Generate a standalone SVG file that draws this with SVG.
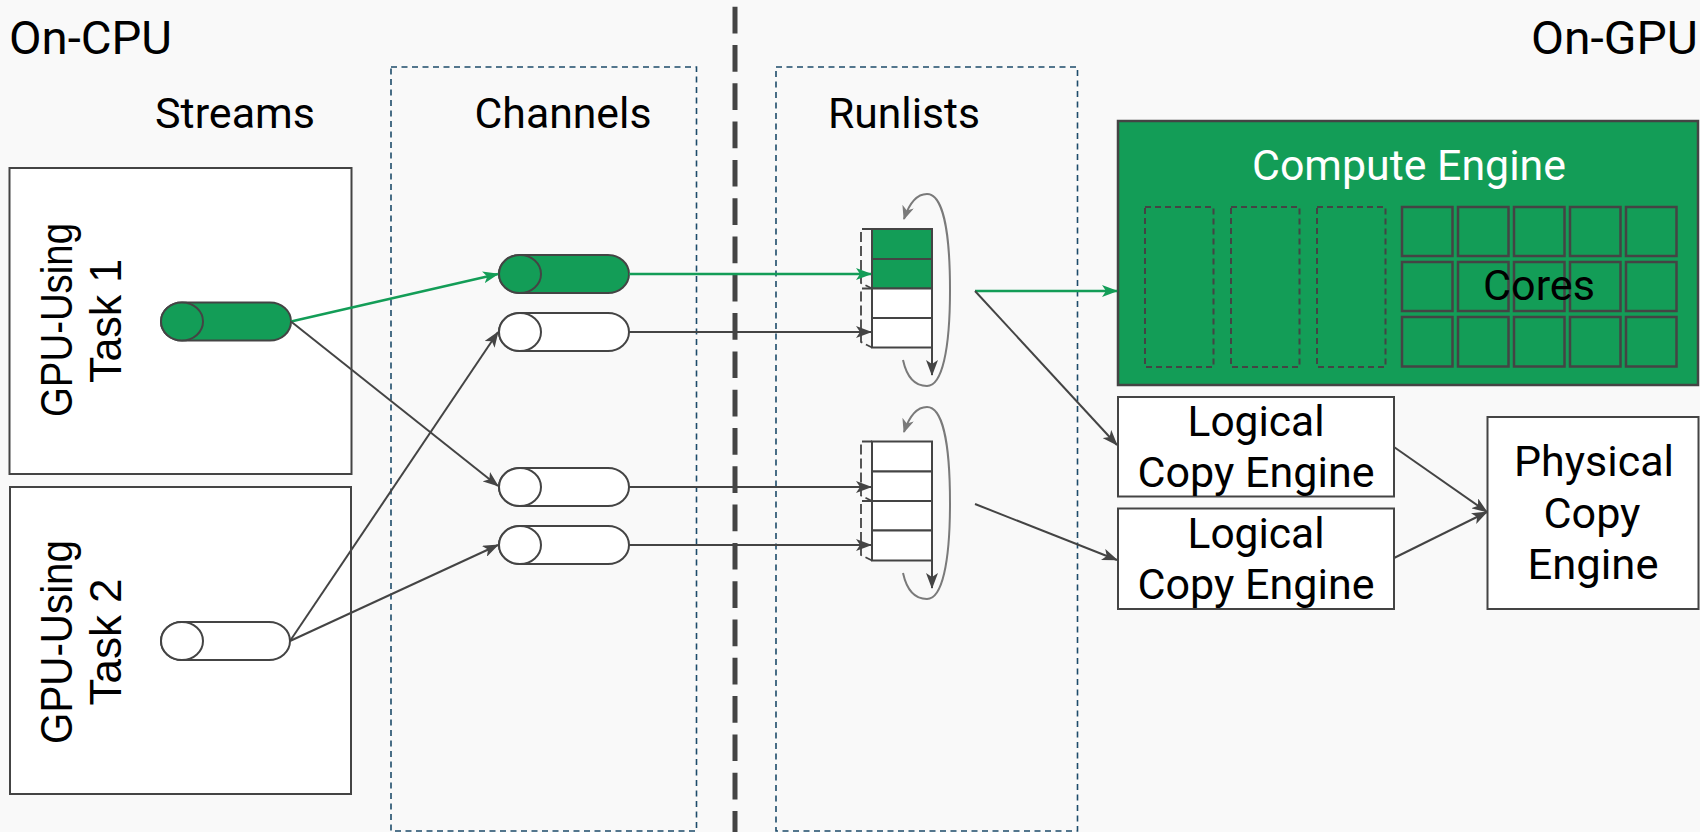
<svg xmlns="http://www.w3.org/2000/svg" width="1700" height="832" viewBox="0 0 1700 832">
  <defs>
    <style>
      .lbl { font-family: Roboto, "Liberation Sans", sans-serif; fill: #000; }
      .vlbl { font-family: "Liberation Sans", Arial, sans-serif; fill: #000; font-size: 44px; text-anchor: middle; }
      .box { fill: #fff; stroke: #444; stroke-width: 2; }
      .zone { fill: none; stroke: #1d4b6a; stroke-width: 1.6; stroke-dasharray: 6 4.5; }
      .cyl-g { fill: #139d57; stroke: #444; stroke-width: 2; }
      .cyl-w { fill: #fff; stroke: #444; stroke-width: 2; }
      .cell-g { fill: #139d57; stroke: #444; stroke-width: 2; }
      .cell-w { fill: #fff; stroke: #444; stroke-width: 2; }
      .bracket { fill: none; stroke: #444; stroke-width: 1.8; stroke-dasharray: 10 4; }
      .loop { fill: none; stroke: #7a7a7a; stroke-width: 2; marker-end: url(#ah-gray); }
      .edge { fill: none; stroke: #444; stroke-width: 2; marker-end: url(#ah-dark); }
      .edge-g { fill: none; stroke: #139d57; stroke-width: 2.5; marker-end: url(#ah-green); }
      .core { fill: none; stroke: #444; stroke-width: 2.5; }
      .slot { fill: none; stroke: #444; stroke-width: 2; stroke-dasharray: 6 4; }
    </style>
    <marker id="ah-dark" viewBox="0 0 16 12" refX="15" refY="6" markerWidth="16" markerHeight="12" orient="auto" markerUnits="userSpaceOnUse">
      <path d="M0,0 L16,6 L0,12 L4,6 z" fill="#444"/>
    </marker>
    <marker id="ah-green" viewBox="0 0 16 12" refX="15" refY="6" markerWidth="16" markerHeight="12" orient="auto" markerUnits="userSpaceOnUse">
      <path d="M0,0 L16,6 L0,12 L4,6 z" fill="#139d57"/>
    </marker>
    <marker id="ah-gray" viewBox="0 0 14 12" refX="13" refY="6" markerWidth="14" markerHeight="12" orient="auto" markerUnits="userSpaceOnUse">
      <path d="M0,0 L14,6 L0,12 L4,6 z" fill="#7a7a7a"/>
    </marker>
  </defs>

  <!-- page background -->
  <rect x="0" y="0" width="1700" height="832" fill="#f9f9f9"/>

  <!-- CPU / GPU divider -->
  <line x1="735" y1="6.7" x2="735" y2="832" stroke="#444" stroke-width="5" stroke-dasharray="26.7 11.6"/>

  <!-- side headings -->
  <text class="lbl" x="9" y="54" font-size="46" textLength="163" lengthAdjust="spacingAndGlyphs">On-CPU</text>
  <text class="lbl" x="1531" y="54" font-size="46" textLength="167" lengthAdjust="spacingAndGlyphs">On-GPU</text>

  <!-- column zones -->
  <g id="zone-channels">
    <rect class="zone" x="391" y="67" width="305.5" height="764"/>
    <text class="lbl" x="563" y="128" font-size="42" text-anchor="middle" textLength="177" lengthAdjust="spacingAndGlyphs">Channels</text>
  </g>
  <g id="zone-runlists">
    <rect class="zone" x="776" y="67" width="301.5" height="764"/>
    <text class="lbl" x="904" y="128" font-size="42" text-anchor="middle" textLength="152" lengthAdjust="spacingAndGlyphs">Runlists</text>
  </g>
  <text class="lbl" x="235" y="128" font-size="42" text-anchor="middle" textLength="160" lengthAdjust="spacingAndGlyphs">Streams</text>

  <!-- tasks -->
  <g id="task1">
    <rect class="box" x="9.5" y="168" width="342" height="306"/>
    <g transform="translate(0,320) rotate(-90)">
      <text class="vlbl" x="0" y="72" textLength="194" lengthAdjust="spacingAndGlyphs">GPU-Using</text>
      <text class="vlbl" x="-1" y="121" textLength="124" lengthAdjust="spacingAndGlyphs">Task 1</text>
    </g>
  </g>
  <g id="task2">
    <rect class="box" x="10" y="487" width="341" height="307"/>
    <g transform="translate(0,642) rotate(-90)">
      <text class="vlbl" x="0" y="72" textLength="204" lengthAdjust="spacingAndGlyphs">GPU-Using</text>
      <text class="vlbl" x="0" y="121" textLength="127" lengthAdjust="spacingAndGlyphs">Task 2</text>
    </g>
  </g>

  <!-- streams -->
  <g id="stream1">
    <path class="cyl-g" d="M182,302.5 H270 A21,19 0 0 1 270,340.5 H182 A21,19 0 0 1 182,302.5 Z"/>
    <ellipse class="cyl-g" cx="182" cy="321.5" rx="21" ry="19"/>
  </g>
  <g id="stream2">
    <path class="cyl-w" d="M182,622 H269 A21,19 0 0 1 269,660 H182 A21,19 0 0 1 182,622 Z"/>
    <ellipse class="cyl-w" cx="182" cy="641" rx="21" ry="19"/>
  </g>

  <!-- channels -->
  <g id="channel1">
    <path class="cyl-g" d="M520,255 H608 A21,19 0 0 1 608,293 H520 A21,19 0 0 1 520,255 Z"/>
    <ellipse class="cyl-g" cx="520" cy="274" rx="21" ry="19"/>
  </g>
  <g id="channel2">
    <path class="cyl-w" d="M520,313 H608 A21,19 0 0 1 608,351 H520 A21,19 0 0 1 520,313 Z"/>
    <ellipse class="cyl-w" cx="520" cy="332" rx="21" ry="19"/>
  </g>
  <g id="channel3">
    <path class="cyl-w" d="M520,468 H608 A21,19 0 0 1 608,506 H520 A21,19 0 0 1 520,468 Z"/>
    <ellipse class="cyl-w" cx="520" cy="487" rx="21" ry="19"/>
  </g>
  <g id="channel4">
    <path class="cyl-w" d="M520,526 H608 A21,19 0 0 1 608,564 H520 A21,19 0 0 1 520,526 Z"/>
    <ellipse class="cyl-w" cx="520" cy="545" rx="21" ry="19"/>
  </g>

  <!-- runlist 1 -->
  <g id="runlist1">
    <path class="loop" d="M903,360 C907,378 916,386 927,386 C942,386 950,350 950,290 C950,228 942,194 927,194 C917,194 909,204 904,219"/>
    <rect class="cell-g" x="872" y="229" width="60" height="30"/>
    <rect class="cell-g" x="872" y="259" width="60" height="29.5"/>
    <rect class="cell-w" x="872" y="288.5" width="60" height="29.5"/>
    <rect class="cell-w" x="872" y="318" width="60" height="29.5"/>
    <path class="bracket" d="M872,229 H861 V283 L872,288.5"/>
    <path class="bracket" d="M872,288.5 H861 V342 L872,347.5"/>
    <path class="edge" d="M932,347.5 V375"/>
  </g>

  <!-- runlist 2 -->
  <g id="runlist2">
    <path class="loop" d="M903,573 C907,591 916,599 927,599 C942,599 950,563 950,503 C950,441 942,407 927,407 C917,407 909,417 904,432"/>
    <rect class="cell-w" x="872" y="441.5" width="60" height="30"/>
    <rect class="cell-w" x="872" y="471.5" width="60" height="29.5"/>
    <rect class="cell-w" x="872" y="501" width="60" height="29.5"/>
    <rect class="cell-w" x="872" y="530.5" width="60" height="30"/>
    <path class="bracket" d="M872,441.5 H861 V495.5 L872,501"/>
    <path class="bracket" d="M872,501 H861 V555 L872,560.5"/>
    <path class="edge" d="M932,560.5 V588"/>
  </g>

  <!-- compute engine -->
  <g id="compute-engine">
    <rect x="1118" y="121" width="580" height="264" fill="#139d57" stroke="#444" stroke-width="2.5"/>
    <text class="lbl" x="1409" y="180" font-size="42" text-anchor="middle" style="fill:#fff" textLength="314" lengthAdjust="spacingAndGlyphs">Compute Engine</text>
    <rect class="slot" x="1145" y="207" width="68.5" height="160"/>
    <rect class="slot" x="1231" y="207" width="68.5" height="160"/>
    <rect class="slot" x="1317" y="207" width="68.5" height="160"/>
    <g id="cores">
      <rect class="core" x="1402" y="207" width="50.5" height="49"/>
      <rect class="core" x="1458" y="207" width="50.5" height="49"/>
      <rect class="core" x="1514" y="207" width="50.5" height="49"/>
      <rect class="core" x="1570" y="207" width="50.5" height="49"/>
      <rect class="core" x="1626" y="207" width="50.5" height="49"/>
      <rect class="core" x="1402" y="262" width="50.5" height="49"/>
      <rect class="core" x="1458" y="262" width="50.5" height="49"/>
      <rect class="core" x="1514" y="262" width="50.5" height="49"/>
      <rect class="core" x="1570" y="262" width="50.5" height="49"/>
      <rect class="core" x="1626" y="262" width="50.5" height="49"/>
      <rect class="core" x="1402" y="317" width="50.5" height="49.5"/>
      <rect class="core" x="1458" y="317" width="50.5" height="49.5"/>
      <rect class="core" x="1514" y="317" width="50.5" height="49.5"/>
      <rect class="core" x="1570" y="317" width="50.5" height="49.5"/>
      <rect class="core" x="1626" y="317" width="50.5" height="49.5"/>
      <text class="lbl" x="1539" y="300" font-size="42" text-anchor="middle" textLength="112" lengthAdjust="spacingAndGlyphs">Cores</text>
    </g>
  </g>

  <!-- copy engines -->
  <g id="logical-ce1">
    <rect class="box" x="1118" y="397" width="276" height="99.5"/>
    <text class="lbl" x="1256" y="436" font-size="42" text-anchor="middle" textLength="137" lengthAdjust="spacingAndGlyphs">Logical</text>
    <text class="lbl" x="1256" y="487" font-size="42" text-anchor="middle" textLength="237" lengthAdjust="spacingAndGlyphs">Copy Engine</text>
  </g>
  <g id="logical-ce2">
    <rect class="box" x="1118" y="508.5" width="276" height="100.5"/>
    <text class="lbl" x="1256" y="548" font-size="42" text-anchor="middle" textLength="137" lengthAdjust="spacingAndGlyphs">Logical</text>
    <text class="lbl" x="1256" y="599" font-size="42" text-anchor="middle" textLength="237" lengthAdjust="spacingAndGlyphs">Copy Engine</text>
  </g>
  <g id="physical-ce">
    <rect class="box" x="1487.5" y="417" width="211" height="192"/>
    <text class="lbl" x="1594" y="476" font-size="42" text-anchor="middle" textLength="160" lengthAdjust="spacingAndGlyphs">Physical</text>
    <text class="lbl" x="1592" y="528" font-size="42" text-anchor="middle" textLength="97" lengthAdjust="spacingAndGlyphs">Copy</text>
    <text class="lbl" x="1593" y="579" font-size="42" text-anchor="middle" textLength="131" lengthAdjust="spacingAndGlyphs">Engine</text>
  </g>

  <!-- connectors -->
  <g id="connectors">
    <path class="edge-g" d="M291,321.5 L498,274"/>
    <path class="edge" d="M291,321.5 L498,486"/>
    <path class="edge" d="M290,641 L498,332"/>
    <path class="edge" d="M290,641 L498,545"/>
    <path class="edge-g" d="M629,274 L871,274"/>
    <path class="edge" d="M629,332 L871,332"/>
    <path class="edge" d="M629,487 L871,487"/>
    <path class="edge" d="M629,545 L871,545"/>
    <path class="edge-g" d="M975,291 L1117,291"/>
    <path class="edge" d="M975,291 L1117,445"/>
    <path class="edge" d="M975,504 L1117,560"/>
    <path class="edge" d="M1394,447 L1487,512"/>
    <path class="edge" d="M1394,558 L1487,512"/>
  </g>
</svg>
